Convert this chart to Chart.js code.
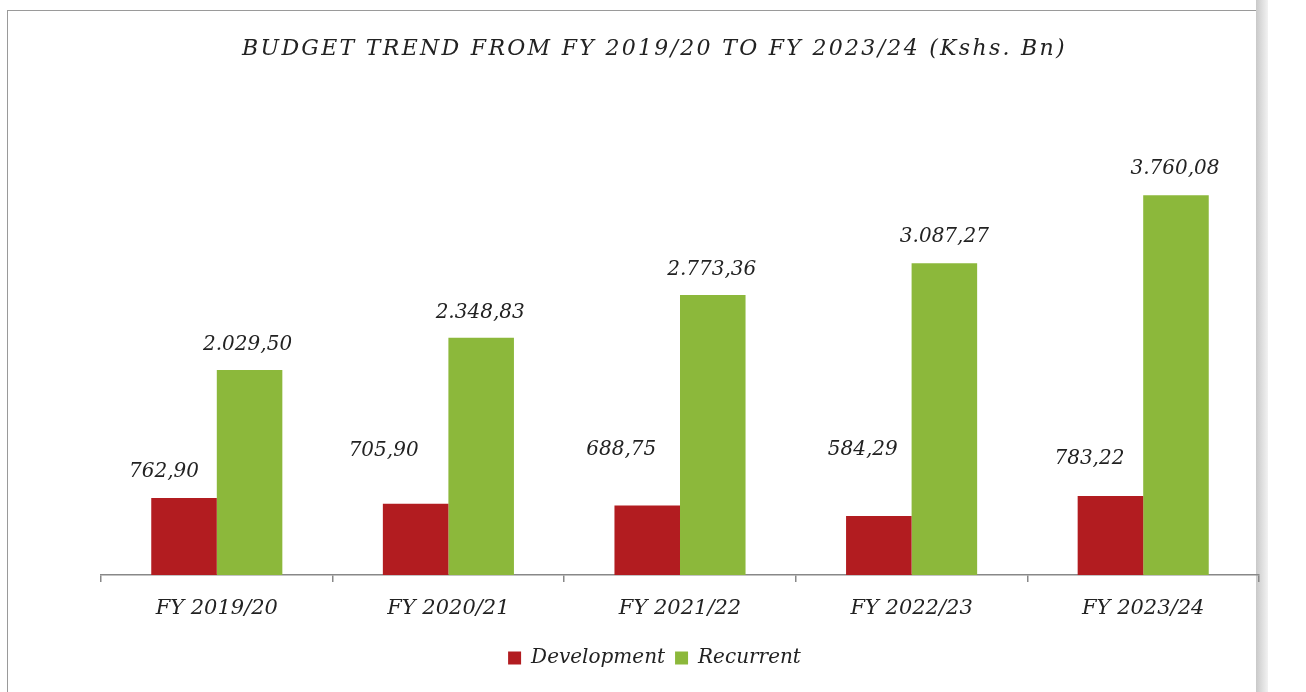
<!DOCTYPE html>
<html>
<head>
<meta charset="utf-8">
<script src="https://cdn.jsdelivr.net/npm/chart.js@4.4.1/dist/chart.umd.min.js"></script>
<style>
  html, body { margin: 0; padding: 0; background: #fff; }
  body { width: 1306px; height: 692px; position: relative; overflow: hidden; }
  #frame { position: absolute; left: 7px; top: 10px; width: 1250px; height: 700px; border: 1px solid #9a9a9a; border-right: none; }
  #strip { position: absolute; left: 1256px; top: 0; width: 12px; height: 692px;
    background: linear-gradient(to right, #c9c9c9, #e2e2e2 60%, #f2f2f2); }
  #wrap { position: absolute; left: 0; top: 0; width: 1306px; height: 692px; }
</style>
</head>
<body>
<div id="frame"></div>
<div id="strip"></div>
<div id="wrap"><canvas id="chart"></canvas></div>
<script>
const years = ['FY 2019/20', 'FY 2020/21', 'FY 2021/22', 'FY 2022/23', 'FY 2023/24'];
const development = [762.90, 705.90, 688.75, 584.29, 783.22];
const recurrent = [2029.50, 2348.83, 2773.36, 3087.27, 3760.08];

const RED = '#b21c20';
const GREEN = '#8cb83b';
const SERIF = "'DejaVu Serif', serif";

// "2.029,50" style numbers
const fmt = v => {
  const [i, d] = v.toFixed(2).split('.');
  return i.replace(/\B(?=(\d{3})+(?!\d))/g, '.') + ',' + d;
};

// hand-placed labels like the original (dx, dy from bar top)
const labelShift = [
  [[-20, -26], [-32, -53], [-26, -56], [-16, -66], [-21, -37]],
  [[-2, -25], [-1, -25], [-1, -25], [0, -26], [-1, -26]],
];

const valueLabels = {
  id: 'valueLabels',
  afterDatasetsDraw(chart) {
    const ctx = chart.ctx;
    ctx.save();
    ctx.font = `italic 20px ${SERIF}`;
    ctx.fillStyle = '#222';
    ctx.textAlign = 'center';
    ctx.textBaseline = 'middle';
    chart.data.datasets.forEach((ds, di) => {
      chart.getDatasetMeta(di).data.forEach((bar, i) => {
        const [dx, dy] = labelShift[di][i];
        ctx.fillText(fmt(ds.data[i]), bar.x + dx, bar.y + dy);
      });
    });
    ctx.restore();
  }
};

const chart = new Chart(document.getElementById('chart'), {
  type: 'bar',
  data: {
    labels: years,
    datasets: [
      { label: 'Development', data: development, backgroundColor: RED },
      { label: 'Recurrent', data: recurrent, backgroundColor: GREEN },
    ],
  },
  plugins: [valueLabels],
  options: {
    responsive: true, maintainAspectRatio: false, animation: false,
    layout: { padding: { left: 50, right: 47, top: 10, bottom: 14 } },
    datasets: { bar: { categoryPercentage: 0.566, barPercentage: 1.0 } },
    plugins: {
      title: {
        display: true,
        text: 'BUDGET TREND FROM FY 2019/20 TO FY 2023/24 (Kshs. Bn)',
        color: '#222',
        font: { family: SERIF, size: 22, style: 'italic', weight: 'normal' },
        padding: { top: 26, bottom: 48 },
      },
      legend: {
        position: 'bottom',
        labels: {
          color: '#222', boxWidth: 13, boxHeight: 13, padding: 10,
          font: { family: SERIF, size: 20, style: 'italic' },
        },
      },
      tooltip: { enabled: false },
    },
    scales: {
      x: {
        grid: { display: true, drawOnChartArea: false, offset: true, tickLength: 7, color: '#888', lineWidth: 1.5 },
        border: { display: true, color: '#888', width: 1.5 },
        ticks: { color: '#222', padding: 14, font: { family: SERIF, size: 21, style: 'italic' } },
        afterFit: s => { s.height = 63; },
      },
      y: {
        min: 0, max: 4600,
        grid: { display: false },
        border: { display: false },
        ticks: { display: false },
        afterFit: s => { s.width = 51; },
      },
    },
  },
});

// the title in the original is spaced out a little
const tb = chart.titleBlock;
const drawTitle = tb.draw.bind(tb);
tb.draw = function () {
  const ctx = this.ctx;
  ctx.save();
  ctx.letterSpacing = '2.3px';
  drawTitle();
  ctx.restore();
};
chart.draw();
</script>
</body>
</html>
